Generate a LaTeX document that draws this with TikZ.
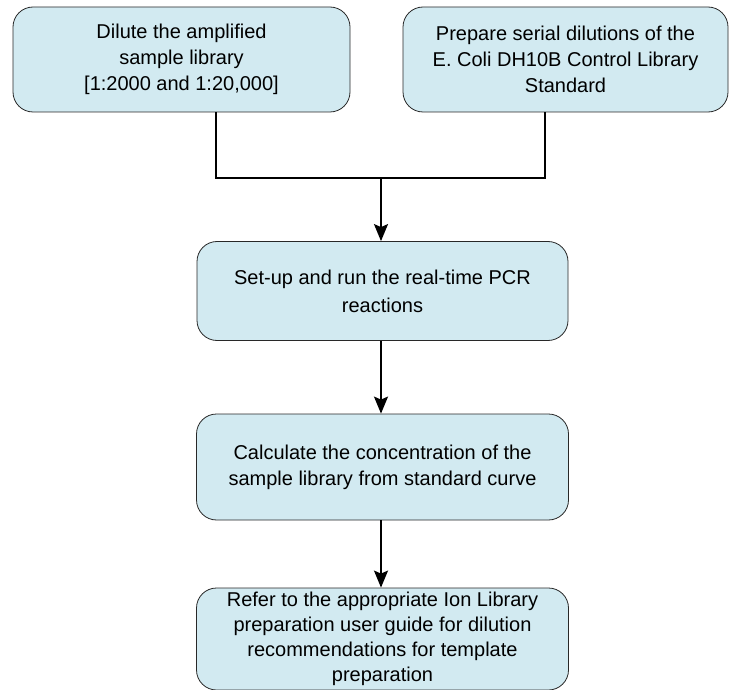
\documentclass[tikz,border=0pt]{standalone}
\usepackage{fontspec}
\setmainfont{Liberation Sans}
\usetikzlibrary{arrows.meta}
\definecolor{boxfill}{RGB}{210,234,241}
\definecolor{boxline}{RGB}{40,40,40}
\begin{document}
\begin{tikzpicture}[x=1pt, y=-1pt]
    % Marco de la imagen
    \useasboundingbox (0,0) rectangle (729,690);

    % Estilos de cajas y flechas
    \tikzset{
      stepbox/.style={
        rectangle, rounded corners=20pt, draw=boxline, line width=0.8pt,
        fill=boxfill, align=center, inner sep=0pt,
        font=\fontsize{20}{26}\selectfont
      },
      link/.style={draw=black, line width=1.8pt},
      flow/.style={link, -{Stealth[length=17pt, width=14pt, inset=3pt]}}
    }

    % Cajas de pasos
    \node[stepbox, minimum width=337pt, minimum height=105pt] (dilute) at (181.5,59.5)
      {Dilute the amplified\\sample library\\{[1:2000 and 1:20,000]}};
    \node[stepbox, minimum width=325pt, minimum height=105pt] (serial) at (565.5,59.5)
      {Prepare serial dilutions of the\\E. Coli DH10B Control Library\\Standard};
    \node[stepbox, minimum width=371pt, minimum height=99pt,
          font=\fontsize{20}{28}\selectfont] (pcr) at (382.5,291)
      {Set-up and run the real-time PCR\\reactions};
    \node[stepbox, minimum width=372pt, minimum height=106pt] (calc) at (382.5,467)
      {Calculate the concentration of the\\sample library from standard curve};
    \node[stepbox, minimum width=372pt, minimum height=102pt,
          font=\fontsize{20}{25}\selectfont] (refer) at (382.5,639)
      {Refer to the appropriate Ion Library\\preparation user guide for dilution\\recommendations for template\\preparation};

    % Puntos de union
    \coordinate (joinL) at (216,178);
    \coordinate (joinR) at (545,178);
    \coordinate (joinC) at (381,178);

    % Conectores
    \draw[link] (dilute.south -| joinL) -- (joinL) -- (joinR) -- (serial.south -| joinR);
    \draw[flow] (joinC) -- (pcr.north -| joinC);
    \draw[flow] (pcr.south -| joinC) -- (calc.north -| joinC);
    \draw[flow] (calc.south -| joinC) -- (refer.north -| joinC);
  \end{tikzpicture}
\end{document}
